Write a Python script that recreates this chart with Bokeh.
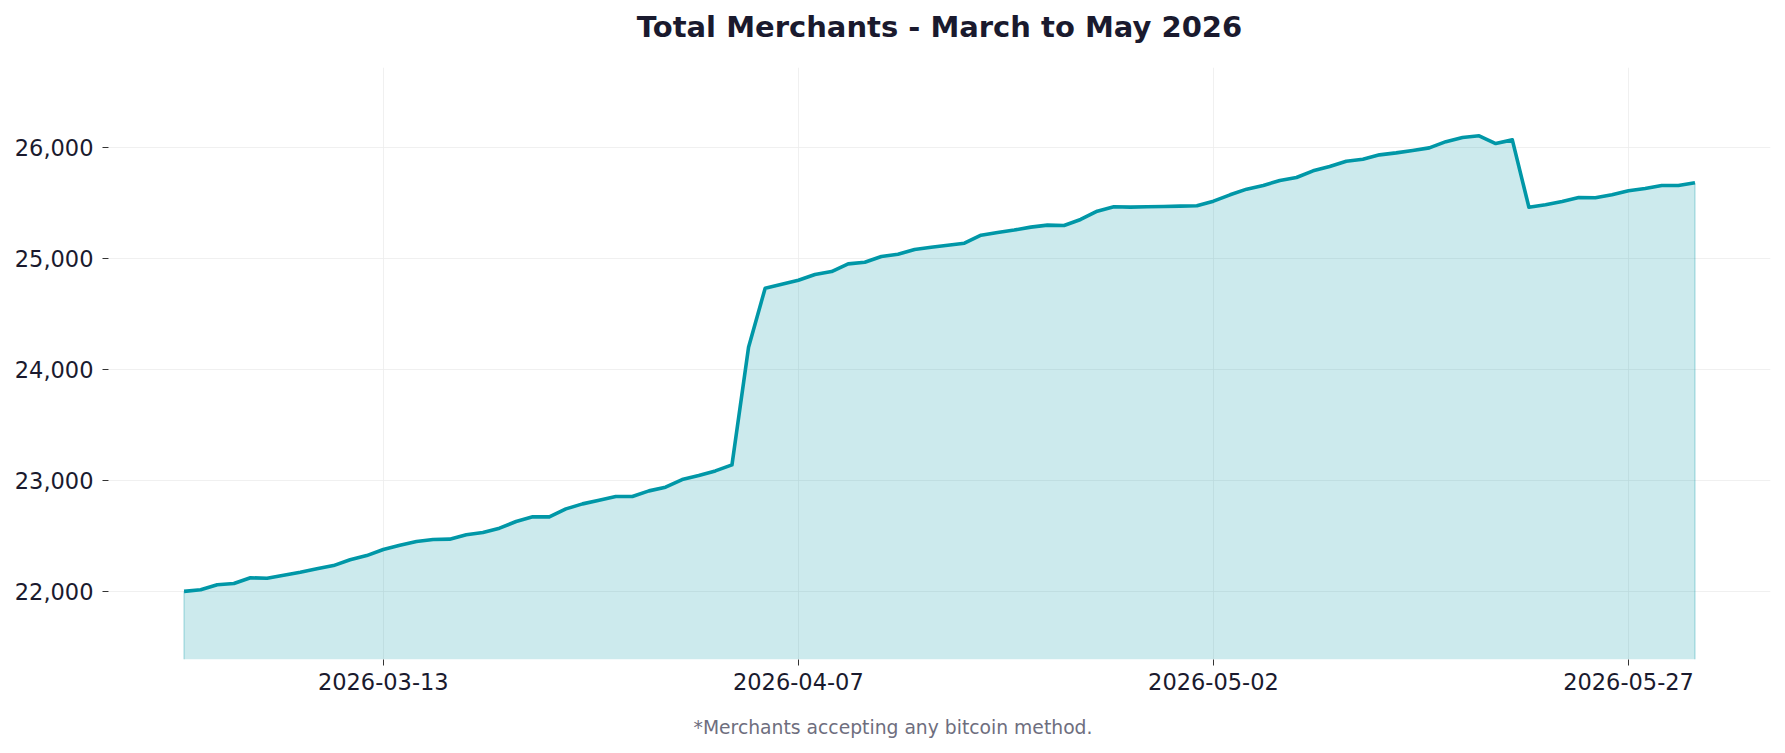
import pandas as pd
from bokeh.plotting import figure
from bokeh.models import (Range1d, FixedTicker, DatetimeTickFormatter,
                          NumeralTickFormatter, Title, ColumnDataSource)
from bokeh.embed import file_html
from bokeh.resources import INLINE

# ---------------- data ----------------
start_date = "2026-03-01"
merchants = [
    22000, 22014, 22059, 22070, 22122, 22118, 22145, 22172, 22203, 22232,
    22284, 22322, 22377, 22415, 22449, 22467, 22470, 22509, 22530, 22569,
    22629, 22671, 22671, 22743, 22788, 22821, 22854, 22854, 22905, 22938,
    23007, 23043, 23085, 23139, 24199, 24731, 24767, 24803, 24854, 24881,
    24950, 24965, 25017, 25037, 25080, 25100, 25118, 25136, 25208, 25233,
    25255, 25281, 25299, 25296, 25350, 25425, 25464, 25461, 25464, 25467,
    25470, 25473, 25515, 25572, 25623, 25656, 25701, 25728, 25788, 25827,
    25875, 25893, 25932, 25950, 25972, 25995, 26051, 26088, 26104, 26034,
    26067, 25460, 25482, 25512, 25548, 25545, 25572, 25608, 25629, 25656,
    25656, 25680,
]
dates = pd.date_range(start_date, periods=len(merchants), freq="D")
x_tick_labels = ["2026-03-13", "2026-04-07", "2026-05-02", "2026-05-27"]
y_ticks = [22000, 23000, 24000, 25000, 26000]
y_min, y_max = 21386, 26719

title_text = "Total Merchants - March to May 2026"
footnote_text = "*Merchants accepting any bitcoin method."

LINE = "#0097a7"
DARK = "#1a1a2e"
FONT = "DejaVu Sans"

pad = (dates[-1] - dates[0]) * 0.05
p = figure(width=1785, height=753, output_backend="svg", toolbar_location=None,
           title=None, x_axis_type="datetime",
           x_range=Range1d(dates[0] - pad, dates[-1] + pad),
           y_range=Range1d(y_min, y_max),
           min_border_left=108, min_border_right=15,
           min_border_top=67, min_border_bottom=94)
p.outline_line_color = None
p.background_fill_color = "white"
p.border_fill_color = "white"

src = ColumnDataSource(dict(x=dates, y=merchants, base=[y_min] * len(merchants)))
p.varea(x="x", y1="base", y2="y", source=src, fill_color=LINE, fill_alpha=0.2)
# faint edges of the filled area
p.line(x=[dates[0], dates[0]], y=[y_min, merchants[0]], line_color=LINE,
       line_alpha=0.25, line_width=1.5)
p.line(x=[dates[-1], dates[-1]], y=[y_min, merchants[-1]], line_color=LINE,
       line_alpha=0.25, line_width=1.5)
p.line(x="x", y="y", source=src, line_color=LINE, line_width=3.6,
       line_join="round")

# grids
for g in (p.xgrid, p.ygrid):
    g.grid_line_color = "#ececec"
    g.grid_line_width = 1
    g.grid_line_alpha = 0.8

# axes
tick_ms = [pd.Timestamp(t).value // 10**6 for t in x_tick_labels]
p.xaxis.ticker = FixedTicker(ticks=tick_ms)
fmt = "%Y-%m-%d"
p.xaxis.formatter = DatetimeTickFormatter(
    microseconds=fmt, milliseconds=fmt, seconds=fmt, minsec=fmt, minutes=fmt,
    hourmin=fmt, hours=fmt, days=fmt, months=fmt, years=fmt)
p.yaxis.ticker = FixedTicker(ticks=y_ticks)
p.yaxis.formatter = NumeralTickFormatter(format="0,0")

for ax in (p.xaxis, p.yaxis):
    ax.axis_line_color = None
    ax.major_tick_line_color = "#333333"
    ax.major_tick_line_width = 1
    ax.major_tick_in = 0
    ax.major_tick_out = 6
    ax.minor_tick_line_color = None
    ax.major_label_text_font = FONT
    ax.major_label_text_font_size = "22.5px"
    ax.major_label_text_color = DARK
p.yaxis.major_label_standoff = 9
p.xaxis.major_label_standoff = 7

# title: spacer next to the frame, then the title text further out
p.add_layout(Title(text=" ", text_font_size="1px", standoff=21), "above")
p.add_layout(Title(text=title_text, align="center", text_font=FONT,
                   text_font_style="bold", text_font_size="29px",
                   text_color=DARK, standoff=0), "above")

# footnote: spacer below the axis, then the note
p.add_layout(Title(text=" ", text_font_size="1px", standoff=19), "below")
p.add_layout(Title(text=footnote_text, align="left", offset=585,
                   text_font=FONT, text_font_style="normal",
                   text_font_size="18.75px", text_color="#6e6e7e",
                   standoff=0), "below")

open("out.html", "w").write(file_html(p, INLINE))
